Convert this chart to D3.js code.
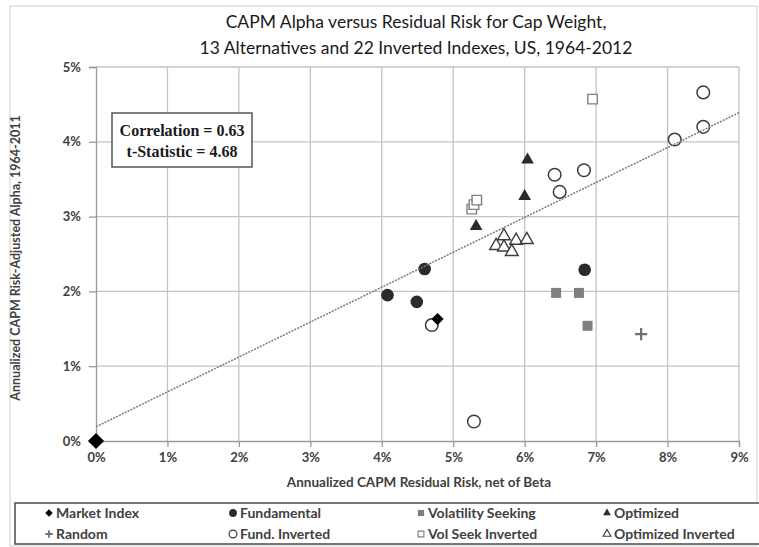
<!DOCTYPE html>
<html>
<head>
<meta charset="utf-8">
<script src="https://cdn.jsdelivr.net/npm/d3@7"></script>
<style>
  body { margin: 0; background: #fff; }
  text { font-family: Lato, "Open Sans", sans-serif; }
  text.stat { font-family: "Liberation Serif", "DejaVu Serif", serif; }
</style>
</head>
<body>
<script>
// values, in percent: [residual risk, alpha]
const marketIndex = [[0, 0], [4.78, 1.63]]
const fundamental = [[4.08, 1.95], [4.49, 1.86], [4.60, 2.30], [6.84, 2.29]]
const volSeeking = [[6.44, 1.98], [6.76, 1.98], [6.88, 1.54]]
const optimized = [[6.04, 3.76], [6.00, 3.27], [5.32, 2.87]]
const randomIdx = [[7.63, 1.43]]
const fundInverted = [[4.70, 1.55], [5.29, 0.26], [6.42, 3.56], [6.83, 3.62], [6.49, 3.33],
    [8.10, 4.03], [8.50, 4.20], [8.50, 4.66]]
const volSeekInverted = [[5.26, 3.10], [5.29, 3.16], [5.33, 3.22], [6.95, 4.57]]
const optimizedInverted = [[5.71, 2.74], [5.88, 2.68], [6.03, 2.69], [5.60, 2.61], [5.71, 2.59], [5.82, 2.53]]
const trendLine = [[0, 0.19], [9, 4.39]]

const xTicks = [0, 1, 2, 3, 4, 5, 6, 7, 8, 9]
const yTicks = [0, 1, 2, 3, 4, 5]
const titleLines = ['CAPM Alpha versus Residual Risk for Cap Weight,',
    '13 Alternatives and 22 Inverted Indexes, US, 1964-2012']
const statLines = ['Correlation = 0.63', 't-Statistic = 4.68']
const legendNames = ['Market Index', 'Fundamental', 'Volatility Seeking', 'Optimized',
    'Random', 'Fund. Inverted', 'Vol Seek Inverted', 'Optimized Inverted']

const m = { width: 759, height: 547, left: 96, right: 739, top: 67, bottom: 441 }

const svg = d3.select('body').append('svg')
    .attr('width', m.width)
    .attr('height', m.height)

const x = d3.scaleLinear().domain([0, 9]).range([m.left, m.right])
const y = d3.scaleLinear().domain([0, 5]).range([m.bottom, m.top])

// outer chart frame
svg.append('rect')
    .attr('x', 10).attr('y', 6)
    .attr('width', 747).attr('height', 540)
    .attr('fill', 'none')
    .attr('stroke', '#d0d0d0')

// title
svg.selectAll('.title')
    .data(titleLines)
    .enter()
    .append('text')
    .attr('x', 416)
    .attr('y', (d, i) => 28 + i * 26)
    .attr('text-anchor', 'middle')
    .attr('font-size', 17.5)
    .attr('fill', '#1a1a1a')
    .text(d => d)

// grid
const grid = svg.append('g')
grid.selectAll('.gx')
    .data(xTicks.slice(1))
    .enter()
    .append('line')
    .attr('x1', d => x(d)).attr('x2', d => x(d))
    .attr('y1', m.top).attr('y2', m.bottom)
    .attr('stroke', '#c4c4c4').attr('stroke-width', 1.3)
grid.selectAll('.gy')
    .data(yTicks.slice(1))
    .enter()
    .append('line')
    .attr('x1', m.left).attr('x2', m.right)
    .attr('y1', d => y(d)).attr('y2', d => y(d))
    .attr('stroke', '#c4c4c4').attr('stroke-width', 1.3)

// axes
svg.append('g')
    .attr('transform', `translate(0,${m.bottom})`)
    .call(d3.axisBottom(x).tickValues(xTicks).tickFormat(d => d + '%').tickSize(6).tickPadding(6))
svg.append('g')
    .attr('transform', `translate(${m.left},0)`)
    .call(d3.axisLeft(y).tickValues(yTicks).tickFormat(d => d + '%').tickSize(7).tickPadding(8))

svg.selectAll('.domain, .tick line').attr('stroke', '#9a9a9a').attr('stroke-width', 1.3)
svg.selectAll('.tick text')
    .attr('font-size', 13)
    .attr('font-weight', 'bold')
    .attr('fill', '#404040')

// axis titles
svg.append('text')
    .attr('x', 419).attr('y', 487)
    .attr('text-anchor', 'middle')
    .attr('font-size', 13.5).attr('font-weight', 'bold')
    .attr('fill', '#404040')
    .text('Annualized CAPM Residual Risk, net of Beta')
svg.append('text')
    .attr('transform', 'translate(20,258) rotate(-90)')
    .attr('text-anchor', 'middle')
    .attr('font-size', 12.5).attr('font-weight', 'bold')
    .attr('fill', '#404040')
    .text('Annualized CAPM Risk-Adjusted Alpha, 1964-2011')

// statistics box
svg.append('rect')
    .attr('x', 112).attr('y', 113)
    .attr('width', 140).attr('height', 54)
    .attr('fill', '#fff')
    .attr('stroke', '#555').attr('stroke-width', 1.5)
svg.selectAll('.stat')
    .data(statLines)
    .enter()
    .append('text')
    .attr('class', 'stat')
    .attr('x', 182)
    .attr('y', (d, i) => 136 + i * 21)
    .attr('text-anchor', 'middle')
    .attr('font-size', 16).attr('font-weight', 'bold')
    .attr('fill', '#1a1a1a')
    .text(d => d)

// marker styles
const sym = {
    diamond: s => d3.symbol(d3.symbolSquare, s)(),
    circle: s => d3.symbol(d3.symbolCircle, s)(),
    square: s => d3.symbol(d3.symbolSquare, s)(),
    triangle: s => d3.symbol(d3.symbolTriangle, s)(),
    plus: s => { const h = Math.sqrt(s) / 2; return `M${-h},0H${h}M0,${-h}V${h}` }
}
const series = [
    { data: fundamental, shape: 'circle', size: 125, fill: '#2b2b2b', stroke: 'none' },
    { data: volSeeking, shape: 'square', size: 100, fill: '#7f7f7f', stroke: 'none' },
    { data: optimized, shape: 'triangle', size: 70, fill: '#2b2b2b', stroke: 'none' },
    { data: randomIdx, shape: 'plus', size: 150, fill: 'none', stroke: '#6f6f6f', sw: 2.2 },
    { data: fundInverted, shape: 'circle', size: 125, fill: '#fff', stroke: '#3c3c3c', sw: 1.5 },
    { data: volSeekInverted, shape: 'square', size: 90, fill: '#fff', stroke: '#7f7f7f', sw: 1.4 },
    { data: optimizedInverted, shape: 'triangle', size: 70, fill: '#fff', stroke: '#3c3c3c', sw: 1.4 },
    { data: marketIndex, shape: 'diamond', size: 75, fill: '#000', stroke: 'none', rot: 45 }
]

const marks = svg.append('g')
series.forEach(function (s) {
    marks.selectAll(null)
        .data(s.data)
        .enter()
        .append('path')
        .attr('d', (d, i) => sym[s.shape](s.shape === 'diamond' && i === 0 ? 130 : s.size))
        .attr('transform', d => `translate(${x(d[0])},${y(d[1])})` + (s.rot ? ` rotate(${s.rot})` : ''))
        .attr('fill', s.fill)
        .attr('stroke', s.stroke)
        .attr('stroke-width', s.sw || 0)
})

// linear trend line
svg.append('path')
    .datum(trendLine)
    .attr('d', d3.line().x(d => x(d[0])).y(d => y(d[1])))
    .attr('fill', 'none')
    .attr('stroke', '#7a7a7a')
    .attr('stroke-width', 1.5)
    .attr('stroke-dasharray', '2,1.2')

// legend
svg.append('rect')
    .attr('x', 15).attr('y', 503)
    .attr('width', 745).attr('height', 41)
    .attr('fill', '#fff')
    .attr('stroke', '#4a4a4a').attr('stroke-width', 1.5)

const legendOrder = [series[7], series[0], series[1], series[2], series[3], series[4], series[5], series[6]]
const colX = [49, 233, 421, 607]
const legend = svg.selectAll('.leg')
    .data(legendNames)
    .enter()
    .append('g')
    .attr('transform', (d, i) => `translate(${colX[i % 4]},${i < 4 ? 513 : 534})`)

legend.append('path')
    .attr('d', (d, i) => {
        const s = legendOrder[i]
        return sym[s.shape](s.shape === 'plus' ? 55 : s.size * 0.38)
    })
    .attr('transform', (d, i) => legendOrder[i].rot ? 'rotate(45)' : null)
    .attr('fill', (d, i) => legendOrder[i].fill)
    .attr('stroke', (d, i) => legendOrder[i].stroke)
    .attr('stroke-width', (d, i) => (legendOrder[i].sw || 0) * 0.8)

legend.append('text')
    .attr('x', 7)
    .attr('y', 5)
    .attr('font-size', 14).attr('font-weight', 'bold')
    .attr('fill', '#404040')
    .text(d => d)
</script>
</body>
</html>
